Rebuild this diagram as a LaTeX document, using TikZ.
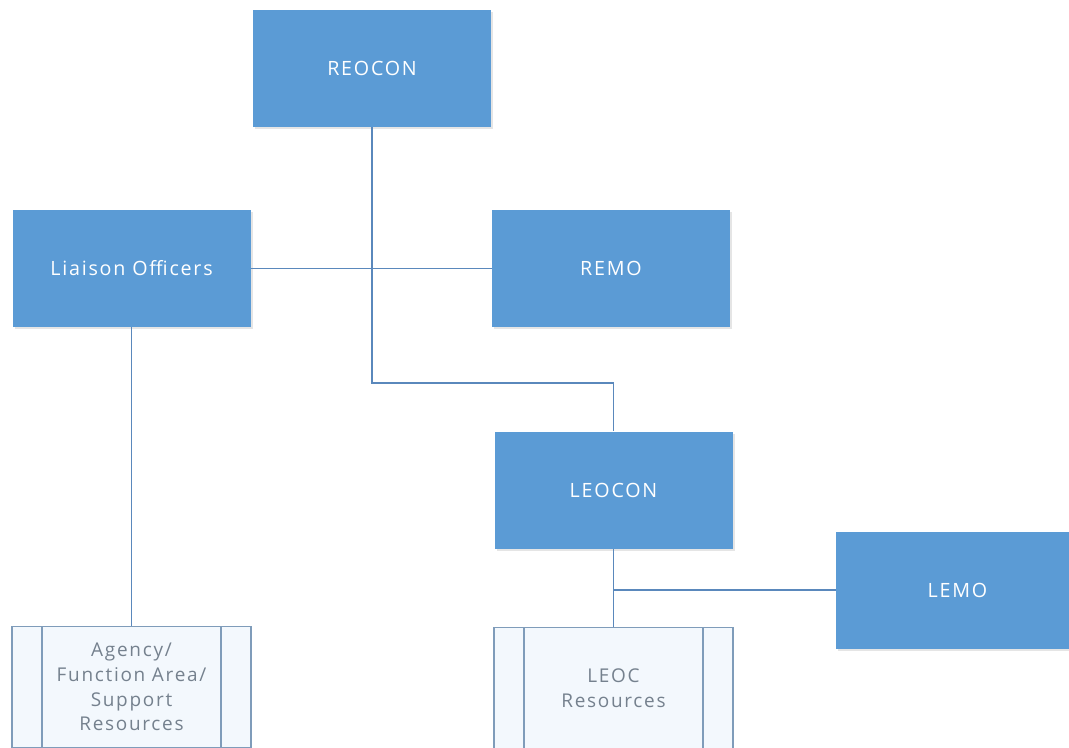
\documentclass[tikz,border=0pt]{standalone}
\usepackage{fontspec}
\setmainfont[LetterSpace=9]{Open Sans}
\usetikzlibrary{positioning,shadows}
\definecolor{boxblue}{HTML}{5B9BD5}
\definecolor{linkblue}{HTML}{5A88BC}
\definecolor{resedge}{HTML}{7F9CBA}
\definecolor{resfill}{HTML}{F3F8FD}
\definecolor{restext}{HTML}{75818E}
\tikzset{
  unit/.style={rectangle,fill=boxblue,text=white,minimum width=4.76cm,minimum height=2.34cm,
    font=\fontsize{11.2}{13}\selectfont,
    drop shadow={opacity=0.2,shadow xshift=0.04cm,shadow yshift=-0.04cm}},
  resource/.style={rectangle,draw=resedge,line width=0.6pt,fill=resfill,text=restext,
    minimum width=4.78cm,minimum height=2.42cm,align=center,
    font=\fontsize{10.8}{14}\selectfont,
    path picture={
      \draw[resedge,line width=0.6pt] ([xshift=0.6cm]path picture bounding box.north west) -- ([xshift=0.6cm]path picture bounding box.south west);
      \draw[resedge,line width=0.6pt] ([xshift=-0.6cm]path picture bounding box.north east) -- ([xshift=-0.6cm]path picture bounding box.south east);
    }},
  link/.style={draw=linkblue,line width=1pt}
}
\begin{document}
\begin{tikzpicture}
  \useasboundingbox (0,0) rectangle (21.38,14.94);
  \clip (0,0) rectangle (21.38,14.94);
  \fill[white] (0,0) rectangle (21.38,14.94);

  % regional level
  \node[unit] (reocon) at (7.44,13.57) {REOCON};
  \node[unit] (liaison) at (2.63,9.57) {Liaison Officers};
  \node[unit] (remo) at (12.22,9.57) {REMO};

  % local level
  \node[unit] (leocon) at (12.27,5.14) {LEOCON};
  \node[unit,minimum width=4.86cm] (lemo) at (19.15,3.14) {LEMO};

  % resources
  \node[resource] (agency) at (2.63,1.20) {Agency/\\Function Area/\\Support\\Resources};
  \node[resource] (leoc) at (12.27,1.18) {LEOC\\Resources};

  \coordinate (bend) at (7.44,7.28);
  \coordinate (split) at (leocon.south |- lemo.west);

  \draw[link] (reocon.south) -- (bend) -| (leocon.north);
  \draw[link] (liaison.east) -- (remo.west);
  \draw[link] (liaison.south) -- (agency.north);
  \draw[link] (leocon.south) -- (leoc.north);
  \draw[link] (split) -- (lemo.west);
\end{tikzpicture}
\end{document}
